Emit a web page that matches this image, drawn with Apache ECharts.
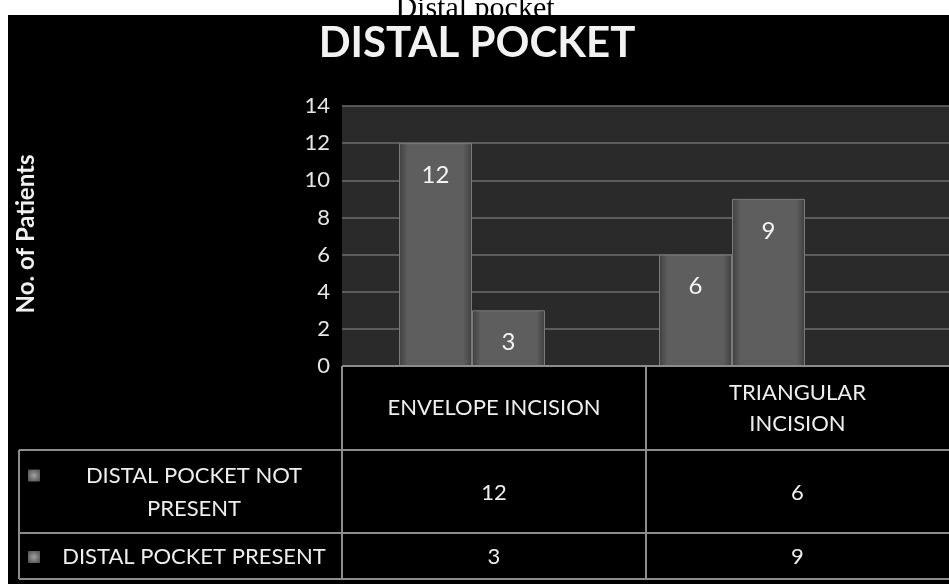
<!DOCTYPE html>
<html>
<head>
<meta charset="utf-8">
<script src="https://cdn.jsdelivr.net/npm/echarts@6/dist/echarts.min.js"></script>
<style>
html,body{margin:0;padding:0;background:#fff;}
#chart{width:949px;height:584px;}
</style>
</head>
<body>
<div id="chart"></div>
<script>
// ---- data ----
const caption = 'Distal pocket';
const chartTitle = 'DISTAL POCKET';
const yAxisTitle = 'No. of Patients';
const categories = ['ENVELOPE INCISION', 'TRIANGULAR\nINCISION'];
const seriesNames = ['DISTAL POCKET NOT\nPRESENT', 'DISTAL POCKET PRESENT'];
const notPresent = [12, 6];
const present = [3, 9];
const yMin = 0, yMax = 14, yStep = 2;

// ---- layout ----
const plotL = 342, plotT = 106, plotB = 366, plotR = 949;
const barPlotW = 520;
const tblL = 19, colX = [342, 646, 949];
const rowY = [366, 450, 533, 579];
const lineCol = '#8c8c8c';
const font = 'Lato, "Open Sans", sans-serif';

const barColor = {
  type: 'linear', x: 0, y: 0, x2: 1, y2: 0,
  colorStops: [
    {offset: 0, color: '#404040'},
    {offset: 0.12, color: '#5e5e5e'},
    {offset: 0.88, color: '#5e5e5e'},
    {offset: 1, color: '#404040'}
  ]
};

const chart = echarts.init(document.getElementById('chart'));

const g = [];
g.push({type: 'text', z: -20, style: {text: caption, x: 475, y: 9, align: 'center', verticalAlign: 'middle',
  font: '30px "Liberation Serif", serif', fill: '#000'}});
g.push({type: 'rect', z: -10, shape: {x: 8, y: 15, width: 941, height: 569}, style: {fill: '#000'}});
g.push({type: 'text', z: 5, style: {text: chartTitle, x: 477, y: 43, align: 'center', verticalAlign: 'middle',
  font: 'bold 42px ' + font, fill: '#f2f2f2'}});
g.push({type: 'text', z: 5, rotation: Math.PI / 2, x: 26, y: 234, style: {text: yAxisTitle, x: 0, y: 0,
  align: 'center', verticalAlign: 'middle', font: 'bold 24px ' + font, fill: '#f0f0f0'}});

function line(x1, y1, x2, y2) {
  g.push({type: 'line', z: 5, shape: {x1, y1, x2, y2}, style: {stroke: lineCol, lineWidth: 2}});
}
line(colX[0], rowY[0], colX[2], rowY[0]);
line(colX[0], rowY[0], colX[0], rowY[3]);
line(colX[1], rowY[0], colX[1], rowY[3]);
for (let i = 1; i < rowY.length; i++) line(tblL, rowY[i], colX[2], rowY[i]);
line(tblL, rowY[1], tblL, rowY[3]);

categories.forEach((c, i) => {
  g.push({type: 'text', z: 5, style: {text: c, x: (colX[i] + colX[i + 1]) / 2, y: (rowY[0] + rowY[1]) / 2,
    align: 'center', verticalAlign: 'middle', font: '22px ' + font, fill: '#eee', lineHeight: 31}});
});
const rows = [notPresent, present];
seriesNames.forEach((s, r) => {
  const cy = (rowY[r + 1] + rowY[r + 2]) / 2;
  const iconY = r === 0 ? cy - 22 : cy - 5;
  g.push({type: 'rect', z: 5, shape: {x: 28, y: iconY, width: 12, height: 12},
    style: {fill: {type: 'radial', x: 0.5, y: 0.5, r: 0.7, colorStops: [{offset: 0, color: '#a0a0a0'}, {offset: 1, color: '#4a4a4a'}]}}});
  g.push({type: 'text', z: 5, style: {text: s, x: 194, y: cy + 1, align: 'center', verticalAlign: 'middle',
    font: '22px ' + font, fill: '#eee', lineHeight: 33}});
  rows[r].forEach((v, i) => {
    g.push({type: 'text', z: 5, style: {text: String(v), x: (colX[i] + colX[i + 1]) / 2, y: cy + 1,
      align: 'center', verticalAlign: 'middle', font: '22px ' + font, fill: '#eee'}});
  });
});

const option = {
  backgroundColor: '#fff',
  animation: false,
  graphic: {elements: g},
  grid: [
    {left: plotL, top: plotT, width: plotR - plotL, height: plotB - plotT, show: true,
      backgroundColor: '#2a2a2a', borderWidth: 0, z: 0},
    {left: plotL, top: plotT, width: barPlotW, height: plotB - plotT, z: 1}
  ],
  xAxis: [
    {gridIndex: 0, type: 'category', data: categories, show: false},
    {gridIndex: 1, type: 'category', data: categories, show: false}
  ],
  yAxis: [
    {gridIndex: 0, type: 'value', min: yMin, max: yMax, interval: yStep,
      axisLine: {show: false}, axisTick: {show: false},
      axisLabel: {color: '#e6e6e6', fontSize: 22, fontFamily: font, margin: 12},
      splitLine: {lineStyle: {color: '#6e6e6e', width: 1.5}}},
    {gridIndex: 1, type: 'value', min: yMin, max: yMax, interval: yStep, show: false, splitLine: {show: false}}
  ],
  series: [
    {name: seriesNames[0], type: 'bar', xAxisIndex: 1, yAxisIndex: 1, data: notPresent,
      barWidth: 73, barGap: '0%', itemStyle: {color: barColor, borderColor: '#7a7a7a', borderWidth: 1},
      label: {show: true, position: 'insideTop', distance: 20, color: '#f4f4f4', fontSize: 24, fontFamily: font}},
    {name: seriesNames[1], type: 'bar', xAxisIndex: 1, yAxisIndex: 1, data: present,
      barWidth: 73, barGap: '0%', itemStyle: {color: barColor, borderColor: '#7a7a7a', borderWidth: 1},
      label: {show: true, position: 'insideTop', distance: 20, color: '#f4f4f4', fontSize: 24, fontFamily: font}}
  ]
};
chart.setOption(option);
</script>
</body>
</html>
